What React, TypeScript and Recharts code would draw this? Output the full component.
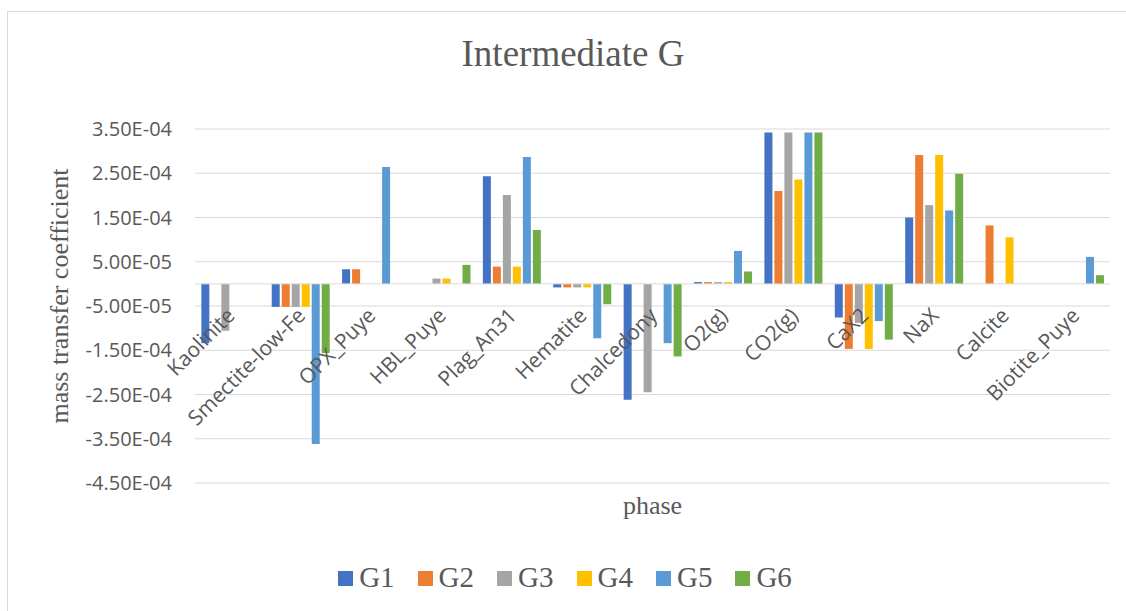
import React from "react"
import { BarChart, Bar, XAxis, YAxis, CartesianGrid, Legend, ReferenceLine } from "recharts"

const phases = [
  "Kaolinite",
  "Smectite-low-Fe",
  "OPX_Puye",
  "HBL_Puye",
  "Plag_An31",
  "Hematite",
  "Chalcedony",
  "O2(g)",
  "CO2(g)",
  "CaX2",
  "NaX",
  "Calcite",
  "Biotite_Puye",
]

const g1 = [-1.34e-4, -5.2e-5, 3.3e-5, 0, 2.43e-4, -8e-6, -2.62e-4, 4e-6, 3.42e-4, -7.6e-5, 1.5e-4, 0, 0]
const g2 = [0, -5.2e-5, 3.3e-5, 0, 3.9e-5, -8e-6, 0, 4e-6, 2.1e-4, -1.47e-4, 2.91e-4, 1.32e-4, 0]
const g3 = [-1.06e-4, -5.2e-5, 0, 1.2e-5, 2.01e-4, -8e-6, -2.45e-4, 4e-6, 3.42e-4, -8.8e-5, 1.78e-4, 0, 0]
const g4 = [0, -5.2e-5, 0, 1.2e-5, 3.9e-5, -8e-6, 0, 4e-6, 2.36e-4, -1.47e-4, 2.91e-4, 1.05e-4, 0]
const g5 = [0, -3.62e-4, 2.64e-4, 0, 2.87e-4, -1.23e-4, -1.34e-4, 7.45e-5, 3.42e-4, -8.4e-5, 1.66e-4, 0, 6.1e-5]
const g6 = [0, -1.565e-4, 0, 4.3e-5, 1.22e-4, -4.6e-5, -1.64e-4, 2.8e-5, 3.42e-4, -1.26e-4, 2.49e-4, 0, 1.96e-5]

const yTicks = [-4.5e-4, -3.5e-4, -2.5e-4, -1.5e-4, -5e-5, 5e-5, 1.5e-4, 2.5e-4, 3.5e-4]

const seriesNames = ["G1", "G2", "G3", "G4", "G5", "G6"]
const seriesValues = [g1, g2, g3, g4, g5, g6]
const colors = ["#4472C4", "#ED7D31", "#A5A5A5", "#FFC000", "#5B9BD5", "#70AD47"]

const data = phases.map((phase, i) => {
  const row: Record<string, string | number> = { phase }
  seriesNames.forEach((name, s) => {
    row[name] = seriesValues[s][i]
  })
  return row
})

// layout
const W = 1130
const H = 599
const M_TOP = 117
const M_RIGHT = 28
const M_BOTTOM = 16
const LEGEND_H = 36
const XAXIS_H = 76
const Y_MIN = -4.5e-4
const Y_MAX = 3.5e-4
const PLOT_H = H - M_TOP - M_BOTTOM - LEGEND_H - XAXIS_H
const ZERO_SHIFT = (PLOT_H * (0 - Y_MIN)) / (Y_MAX - Y_MIN)

const TEXT = "#595959"
const SANS = "'Open Sans', sans-serif"
const SERIF = "'Liberation Serif', 'Times New Roman', serif"

function sci(v: number) {
  const [m, e] = v.toExponential(2).split("e")
  const n = parseInt(e, 10)
  return `${m}E${n < 0 ? "-" : "+"}${String(Math.abs(n)).padStart(2, "0")}`
}

// category labels sit just under the zero line, like Excel does
function PhaseTick(props: any) {
  const { x, y, payload } = props
  const ax = x + 6
  const ay = y - ZERO_SHIFT + 33
  return (
    <text
      x={ax}
      y={ay}
      transform={`rotate(-45 ${ax} ${ay})`}
      textAnchor="end"
      fill={TEXT}
      fontFamily={SANS}
      fontSize={21}
    >
      {payload.value}
    </text>
  )
}

function LegendBox() {
  return (
    <div
      style={{
        display: "flex",
        justifyContent: "center",
        alignItems: "center",
        height: LEGEND_H,
        paddingRight: 16,
        gap: 23,
      }}
    >
      {seriesNames.map((name, i) => (
        <div key={name} style={{ display: "flex", alignItems: "center" }}>
          <span style={{ width: 15, height: 15, background: colors[i], display: "inline-block", marginTop: 2 }} />
          <span style={{ marginLeft: 6, fontFamily: SERIF, fontSize: 29, color: TEXT, lineHeight: "36px" }}>{name}</span>
        </div>
      ))}
    </div>
  )
}

export default function App() {
  return (
    <div
      style={{
        position: "absolute",
        left: 7,
        top: 11,
        width: 1119,
        height: 600,
        overflow: "hidden",
        borderLeft: "1px solid #d9d9d9",
        borderTop: "1px solid #d9d9d9",
        background: "#fff",
      }}
    >
      <BarChart
        width={W}
        height={H}
        data={data}
        margin={{ top: M_TOP, right: M_RIGHT, bottom: M_BOTTOM, left: 0 }}
        barCategoryGap="9%"
        barGap={2}
      >
        <text x={565} y={54} textAnchor="middle" fill={TEXT} fontFamily={SERIF} fontSize={37}>
          Intermediate G
        </text>
        <CartesianGrid vertical={false} stroke="#d9d9d9" strokeWidth={1} />
        <XAxis
          dataKey="phase"
          height={XAXIS_H}
          axisLine={false}
          tickLine={false}
          tickSize={0}
          tickMargin={0}
          interval={0}
          tick={<PhaseTick />}
          label={{
            content: (p: any) => (
              <text
                x={p.viewBox.x + p.viewBox.width / 2}
                y={p.viewBox.y + 31}
                textAnchor="middle"
                fill={TEXT}
                fontFamily={SERIF}
                fontSize={26}
              >
                phase
              </text>
            ),
          }}
        />
        <YAxis
          width={187}
          domain={[Y_MIN, Y_MAX]}
          ticks={yTicks}
          interval={0}
          axisLine={false}
          tickLine={false}
          tickSize={6}
          tickMargin={17}
          tickFormatter={sci}
          tick={{ fill: TEXT, fontFamily: SANS, fontSize: 20 }}
          label={{
            content: (p: any) => {
              const lx = 60
              const ly = p.viewBox.y + p.viewBox.height / 2 - 10
              return (
                <text
                  x={lx}
                  y={ly}
                  transform={`rotate(-90 ${lx} ${ly})`}
                  textAnchor="middle"
                  fill={TEXT}
                  fontFamily={SERIF}
                  fontSize={26}
                >
                  mass transfer coefficient
                </text>
              )
            },
          }}
        />
        <ReferenceLine y={0} stroke="#d9d9d9" strokeWidth={1} />
        <Legend verticalAlign="bottom" height={LEGEND_H} wrapperStyle={{ left: 0, width: W }} content={<LegendBox />} />
        {seriesNames.map((name, i) => (
          <Bar key={name} dataKey={name} fill={colors[i]} isAnimationActive={false} />
        ))}
      </BarChart>
    </div>
  )
}
